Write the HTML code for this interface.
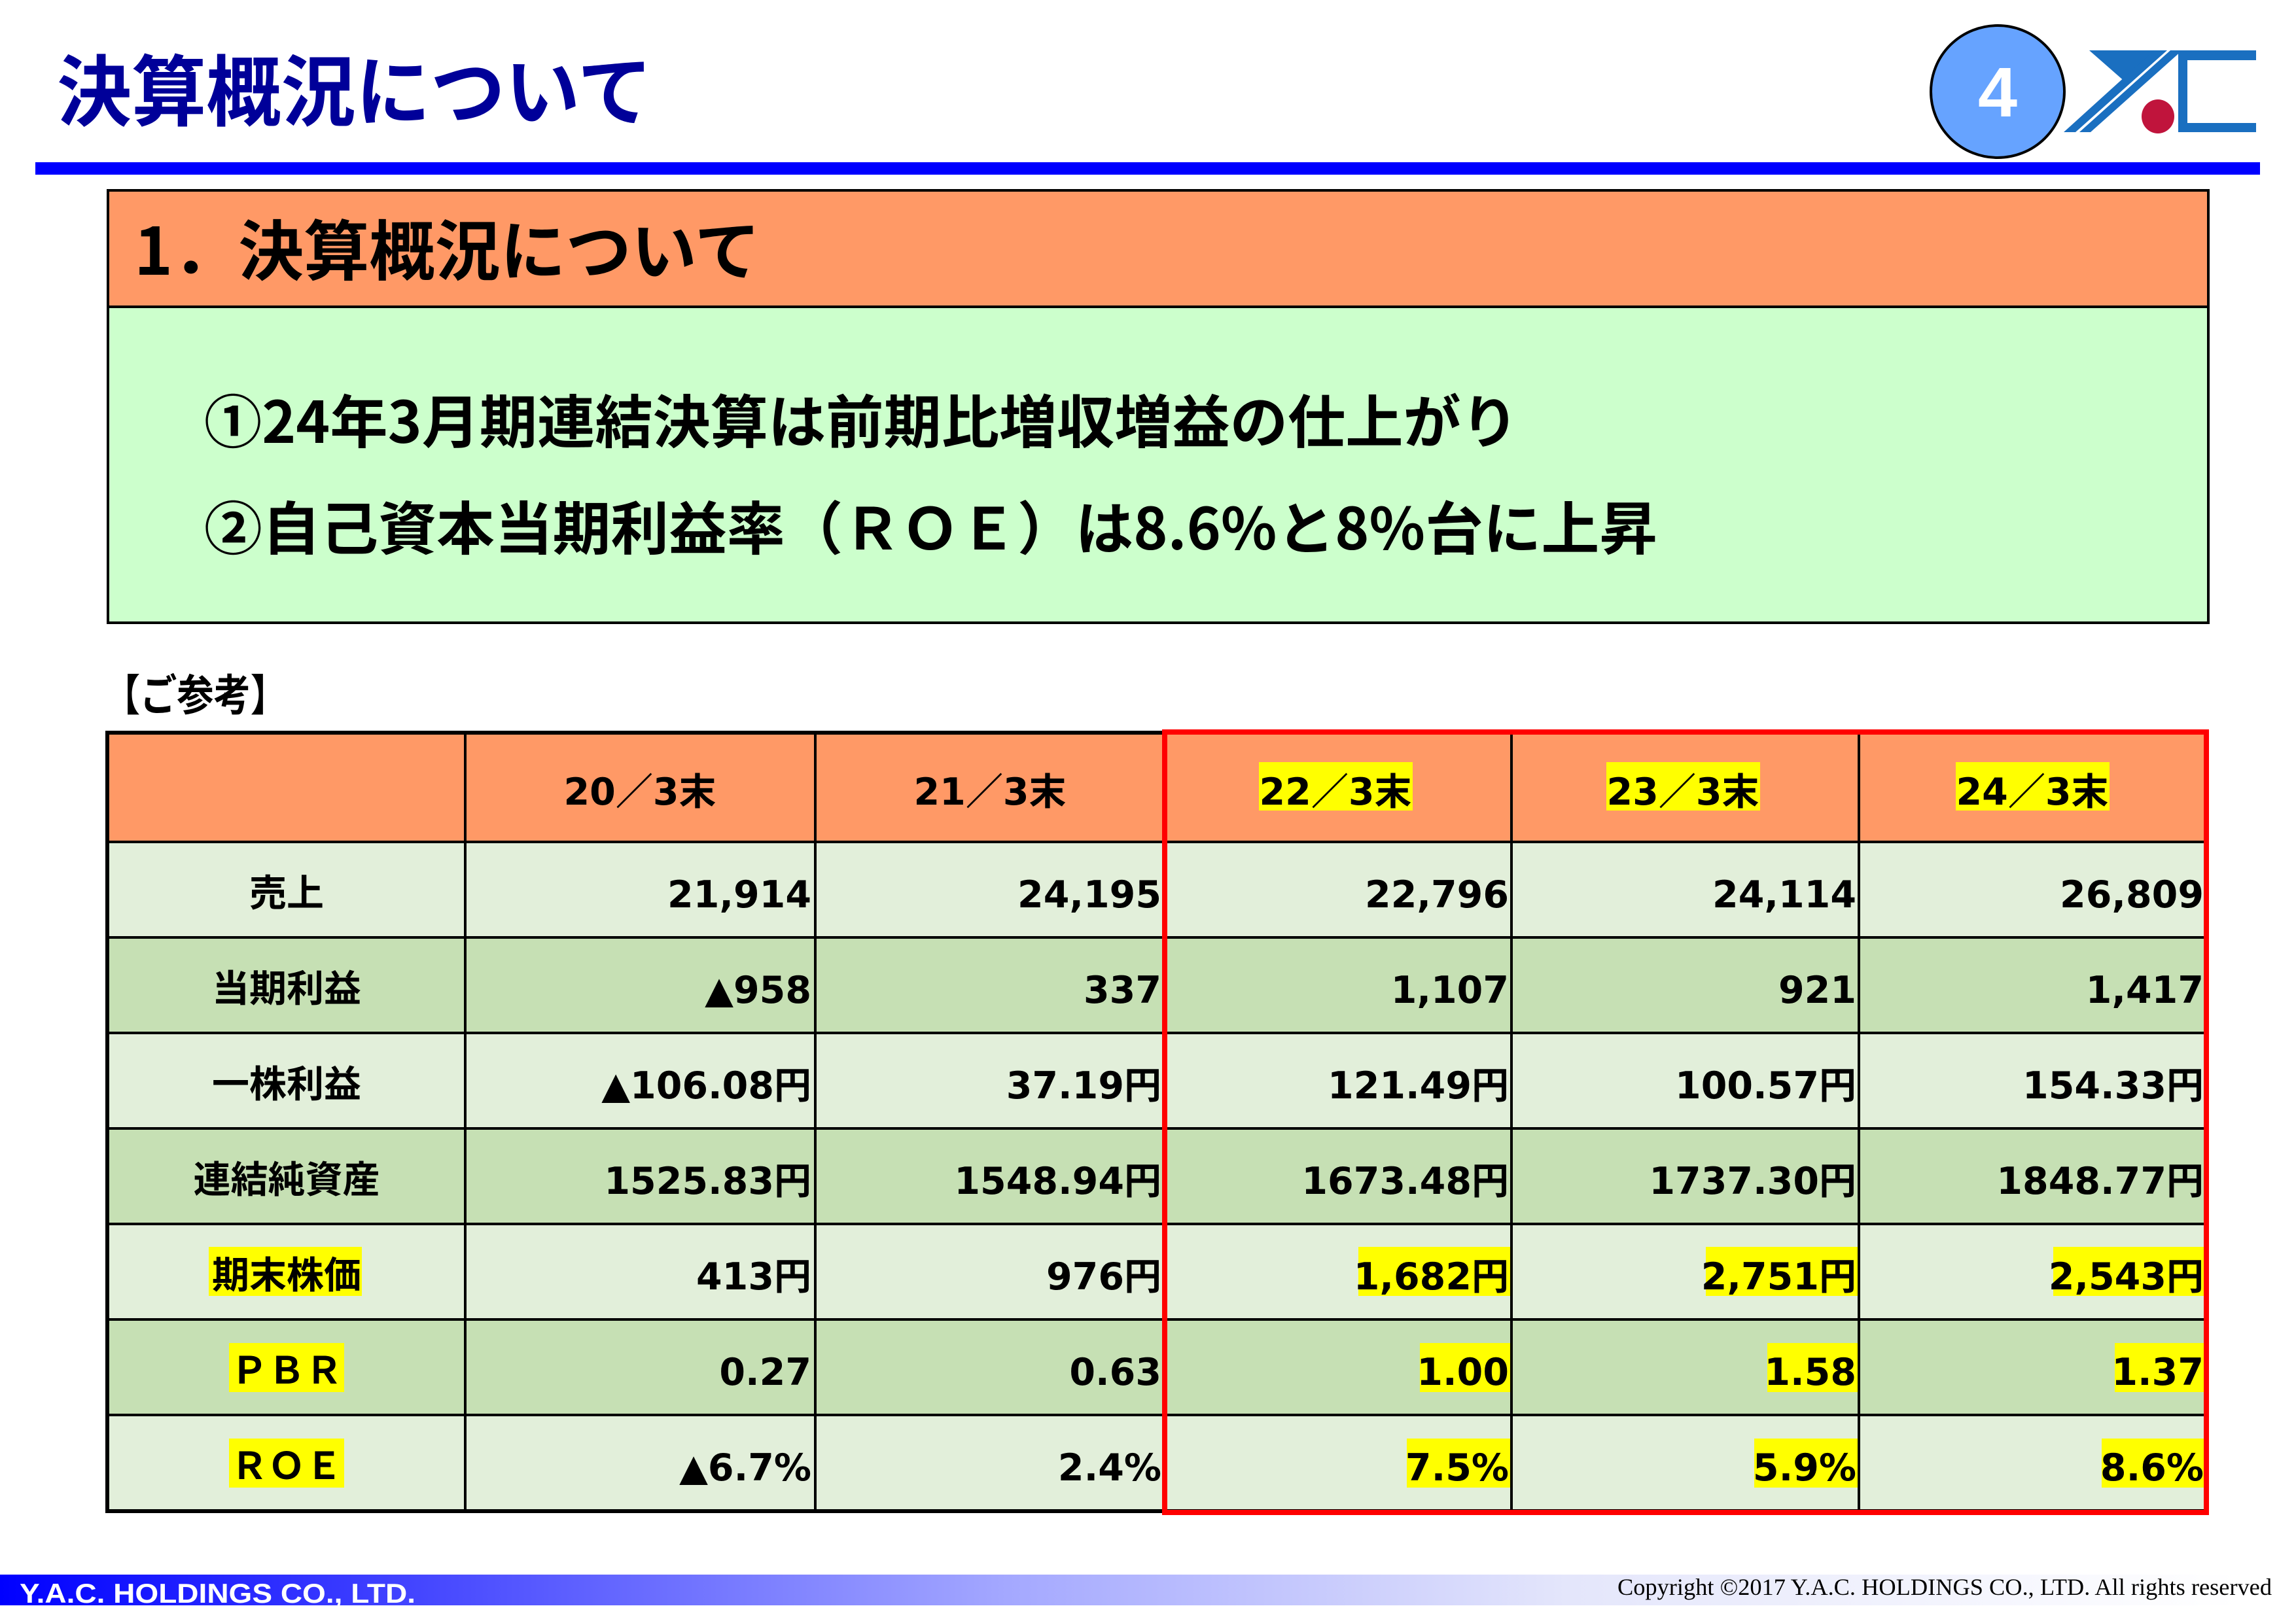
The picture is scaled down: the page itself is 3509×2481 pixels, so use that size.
<!DOCTYPE html>
<html><head><meta charset="utf-8"><style>
html,body{margin:0;padding:0;background:#fff;}
svg{display:block;}
.t{font-family:"DejaVu Sans","Noto Sans CJK JP",sans-serif;font-weight:bold;font-size:57px;fill:#000;}
.j{font-family:"Noto Sans CJK JP",sans-serif;font-weight:bold;}
</style></head><body>
<svg width="3509" height="2481" viewBox="0 0 3509 2481" xmlns="http://www.w3.org/2000/svg">
<defs>
<linearGradient id="g" x1="0" x2="1" y1="0" y2="0">
<stop offset="0" stop-color="#0000ff"/>
<stop offset="0.45" stop-color="#a4a8ff"/>
<stop offset="0.7" stop-color="#e4e6fb"/>
<stop offset="1" stop-color="#ffffff"/>
</linearGradient>
</defs>
<rect width="3509" height="2481" fill="#fff"/>
<text x="87" y="183" class="j" font-size="118" fill="#000099" textLength="910" lengthAdjust="spacingAndGlyphs">決算概況について</text>
<rect x="54" y="248" width="3400" height="19" fill="#0000ff"/>
<ellipse cx="3053" cy="140" rx="102" ry="101" fill="#66a3ff" stroke="#000" stroke-width="4"/>
<text x="3053" y="178" text-anchor="middle" font-family="Liberation Sans,sans-serif" font-weight="bold" font-size="108" fill="#fff">4</text>
<g fill="#1a6fc0">
<polygon points="3193,77 3296,77 3250,127"/>
<polygon points="3292,77 3312,77 3172,202 3154,202"/>
<polygon points="3317,77 3335,77 3195,202 3178,202"/>
<rect x="3329" y="77" width="119" height="15"/>
<rect x="3329" y="77" width="14" height="125"/>
<rect x="3329" y="188" width="119" height="14"/>
</g>
<ellipse cx="3298" cy="178" rx="25" ry="26" fill="#c0143c"/>
<rect x="165" y="291" width="3210" height="178" fill="#ff9966" stroke="#000" stroke-width="4"/>
<rect x="165" y="469" width="3210" height="483" fill="#ccffcc" stroke="#000" stroke-width="4"/>
<text x="205" y="420" class="j" font-size="100" fill="#000" textLength="957" lengthAdjust="spacingAndGlyphs">1．決算概況について</text>
<text x="312" y="677" class="j" font-size="88" fill="#000" textLength="2009" lengthAdjust="spacingAndGlyphs">①24年3月期連結決算は前期比増収増益の仕上がり</text>
<text x="312" y="840" class="j" font-size="88" fill="#000" textLength="2221" lengthAdjust="spacingAndGlyphs">②自己資本当期利益率（ＲＯＥ）は8.6%と8%台に上昇</text>
<text x="158" y="1086" class="j" font-size="66" fill="#000" textLength="281" lengthAdjust="spacingAndGlyphs">【ご参考】</text>
<rect x="164" y="1120" width="3208" height="167" fill="#ff9966"/>
<rect x="164" y="1287" width="3208" height="146" fill="#e2efda"/>
<rect x="164" y="1433" width="3208" height="146" fill="#c6e0b4"/>
<rect x="164" y="1579" width="3208" height="146" fill="#e2efda"/>
<rect x="164" y="1725" width="3208" height="146" fill="#c6e0b4"/>
<rect x="164" y="1871" width="3208" height="146" fill="#e2efda"/>
<rect x="164" y="2017" width="3208" height="146" fill="#c6e0b4"/>
<rect x="164" y="2163" width="3208" height="146" fill="#e2efda"/>
<g fill="#ffff00">
<rect x="1924" y="1165" width="235" height="74"/>
<rect x="2455" y="1165" width="235" height="74"/>
<rect x="2989" y="1165" width="235" height="74"/>
<rect x="319" y="1906" width="234" height="75"/>
<rect x="350" y="2053" width="176" height="75"/>
<rect x="350" y="2199" width="176" height="75"/>
<rect x="2076" y="1906" width="232" height="75"/>
<rect x="2607" y="1906" width="232" height="75"/>
<rect x="3138" y="1906" width="232" height="75"/>
<rect x="2170" y="2053" width="138" height="75"/>
<rect x="2701" y="2053" width="138" height="75"/>
<rect x="3232" y="2053" width="138" height="75"/>
<rect x="2150" y="2199" width="158" height="75"/>
<rect x="2681" y="2199" width="158" height="75"/>
<rect x="3212" y="2199" width="158" height="75"/>
</g>
<g stroke="#000" stroke-width="4">
<line x1="164" y1="1287" x2="3372" y2="1287"/>
<line x1="164" y1="1433" x2="3372" y2="1433"/>
<line x1="164" y1="1579" x2="3372" y2="1579"/>
<line x1="164" y1="1725" x2="3372" y2="1725"/>
<line x1="164" y1="1871" x2="3372" y2="1871"/>
<line x1="164" y1="2017" x2="3372" y2="2017"/>
<line x1="164" y1="2163" x2="3372" y2="2163"/>
<line x1="711" y1="1120" x2="711" y2="2310"/>
<line x1="1246" y1="1120" x2="1246" y2="2310"/>
<line x1="2310" y1="1120" x2="2310" y2="2310"/>
<line x1="2841" y1="1120" x2="2841" y2="2310"/>
</g>
<rect x="164" y="1120" width="3208" height="1190" fill="none" stroke="#000" stroke-width="6"/>
<rect x="1780" y="1119" width="1592" height="1193" fill="none" stroke="#ff0000" stroke-width="8"/>
<g class="t" text-anchor="middle">
<text x="978" y="1230">20／3末</text>
<text x="1513" y="1230">21／3末</text>
<text x="2041" y="1230">22／3末</text>
<text x="2572" y="1230">23／3末</text>
<text x="3106" y="1230">24／3末</text>
<text x="438" y="1385">売上</text>
<text x="438" y="1531">当期利益</text>
<text x="438" y="1677">一株利益</text>
<text x="438" y="1823">連結純資産</text>
<text x="438" y="1969">期末株価</text>
<text x="438" y="2115">ＰＢＲ</text>
<text x="438" y="2261">ＲＯＥ</text>
</g>
<g class="t" text-anchor="end">
<text x="1240" y="1387">21,914</text><text x="1775" y="1387">24,195</text><text x="2306" y="1387">22,796</text><text x="2837" y="1387">24,114</text><text x="3368" y="1387">26,809</text>
<text x="1240" y="1533">▲958</text><text x="1775" y="1533">337</text><text x="2306" y="1533">1,107</text><text x="2837" y="1533">921</text><text x="3368" y="1533">1,417</text>
<text x="1240" y="1679">▲106.08円</text><text x="1775" y="1679">37.19円</text><text x="2306" y="1679">121.49円</text><text x="2837" y="1679">100.57円</text><text x="3368" y="1679">154.33円</text>
<text x="1240" y="1825">1525.83円</text><text x="1775" y="1825">1548.94円</text><text x="2306" y="1825">1673.48円</text><text x="2837" y="1825">1737.30円</text><text x="3368" y="1825">1848.77円</text>
<text x="1240" y="1971">413円</text><text x="1775" y="1971">976円</text><text x="2306" y="1971">1,682円</text><text x="2837" y="1971">2,751円</text><text x="3368" y="1971">2,543円</text>
<text x="1240" y="2117">0.27</text><text x="1775" y="2117">0.63</text><text x="2306" y="2117">1.00</text><text x="2837" y="2117">1.58</text><text x="3368" y="2117">1.37</text>
<text x="1240" y="2263">▲6.7%</text><text x="1775" y="2263">2.4%</text><text x="2306" y="2263">7.5%</text><text x="2837" y="2263">5.9%</text><text x="3368" y="2263">8.6%</text>
</g>
<rect x="0" y="2407" width="3420" height="47" fill="url(#g)"/>
<text x="30" y="2450" font-family="Liberation Sans,sans-serif" font-weight="bold" font-size="42" fill="#fff" textLength="605" lengthAdjust="spacingAndGlyphs">Y.A.C. HOLDINGS CO., LTD.</text>
<text x="2472" y="2438" font-family="Liberation Serif,serif" font-size="36" fill="#000" textLength="1000" lengthAdjust="spacingAndGlyphs">Copyright ©2017 Y.A.C. HOLDINGS CO., LTD.  All rights reserved</text>
</svg>
</body></html>
